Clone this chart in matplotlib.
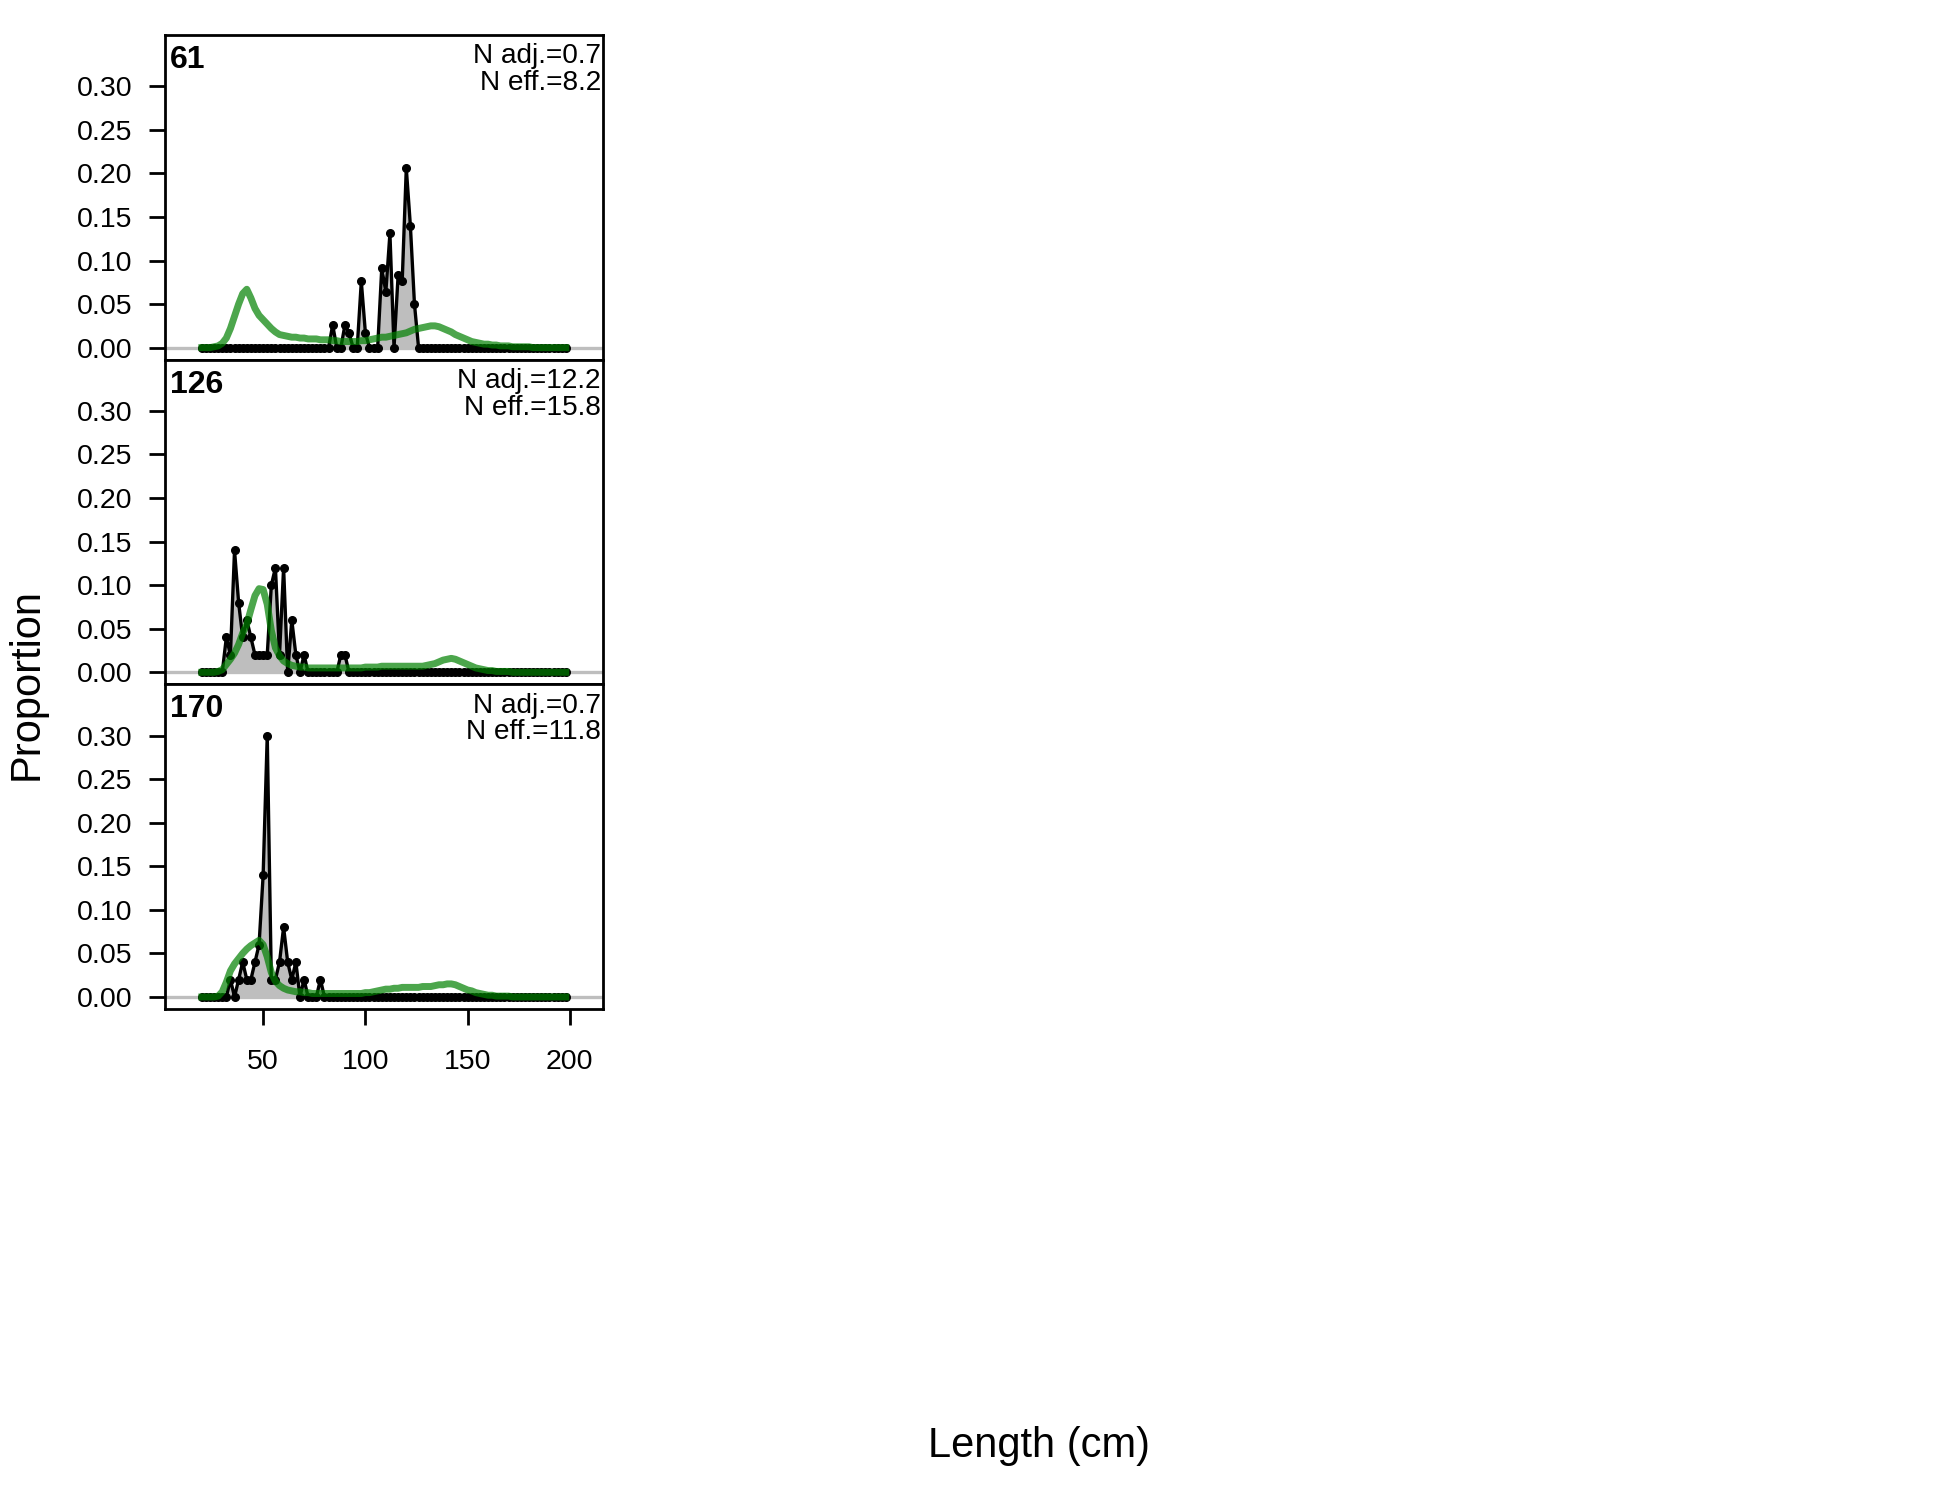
import numpy as np
import matplotlib.pyplot as plt

plt.rcParams['font.family'] = ['Liberation Sans', 'DejaVu Sans']

# length bins (cm), 2 cm wide
length_bins = np.arange(20, 200, 2)

panel_labels = ["61", "126", "170"]
n_adj = ["0.7", "12.2", "0.7"]
n_eff = ["8.2", "15.8", "11.8"]

# observed proportions (only non-zero bins)
obs_61 = {84: 0.026, 90: 0.026, 92: 0.017, 98: 0.076, 100: 0.017,
          108: 0.091, 110: 0.064, 112: 0.131, 116: 0.083, 118: 0.076,
          120: 0.206, 122: 0.140, 124: 0.050}
obs_126 = {32: 0.04, 34: 0.02, 36: 0.14, 38: 0.08, 40: 0.04, 42: 0.06,
           44: 0.04, 46: 0.02, 48: 0.02, 50: 0.02, 52: 0.02, 54: 0.10,
           56: 0.12, 58: 0.02, 60: 0.12, 64: 0.06, 66: 0.02, 70: 0.02,
           88: 0.02, 90: 0.02}
obs_170 = {34: 0.02, 38: 0.02, 40: 0.04, 42: 0.02, 44: 0.02, 46: 0.04,
           48: 0.06, 50: 0.14, 52: 0.30, 54: 0.02, 56: 0.02, 58: 0.04,
           60: 0.08, 62: 0.04, 64: 0.02, 66: 0.04, 70: 0.02, 78: 0.02}

# expected proportions, one value per bin (20..198)
exp_61 = [0, 0, 0, 0.001, 0.002, 0.005, 0.011, 0.022, 0.036, 0.050,
          0.062, 0.067, 0.057, 0.045, 0.037, 0.032, 0.027, 0.022, 0.018, 0.015,
          0.014, 0.013, 0.012, 0.012, 0.011, 0.011, 0.010, 0.010, 0.010, 0.009,
          0.009, 0.009, 0.008, 0.008, 0.007, 0.007, 0.007, 0.007, 0.007, 0.008,
          0.008, 0.009, 0.010, 0.011, 0.012, 0.012, 0.013, 0.014, 0.015, 0.016,
          0.017, 0.019, 0.021, 0.022, 0.023, 0.024, 0.025, 0.025, 0.024, 0.022,
          0.020, 0.018, 0.015, 0.013, 0.011, 0.009, 0.007, 0.006, 0.005, 0.004,
          0.004, 0.003, 0.003, 0.002, 0.002, 0.002, 0.001, 0.001, 0.001, 0.001,
          0.001, 0, 0, 0, 0, 0, 0, 0, 0, 0]
exp_126 = [0, 0, 0, 0, 0.001, 0.003, 0.009, 0.015, 0.022, 0.032,
           0.045, 0.055, 0.072, 0.088, 0.096, 0.095, 0.078, 0.048, 0.028, 0.019,
           0.013, 0.010, 0.008, 0.007, 0.006, 0.006, 0.005, 0.005, 0.005, 0.005,
           0.005, 0.005, 0.005, 0.005, 0.005, 0.005, 0.005, 0.005, 0.005, 0.005,
           0.006, 0.006, 0.006, 0.006, 0.007, 0.007, 0.007, 0.007, 0.007, 0.007,
           0.007, 0.007, 0.007, 0.007, 0.007, 0.008, 0.009, 0.010, 0.012, 0.014,
           0.015, 0.016, 0.015, 0.013, 0.011, 0.009, 0.007, 0.005, 0.004, 0.003,
           0.002, 0.002, 0.001, 0.001, 0.001, 0.001, 0, 0, 0, 0,
           0, 0, 0, 0, 0, 0, 0, 0, 0, 0]
exp_170 = [0, 0, 0, 0, 0.001, 0.006, 0.017, 0.030, 0.038, 0.044,
           0.050, 0.055, 0.059, 0.062, 0.065, 0.060, 0.046, 0.028, 0.018, 0.013,
           0.010, 0.008, 0.007, 0.006, 0.006, 0.005, 0.005, 0.004, 0.004, 0.004,
           0.004, 0.004, 0.004, 0.004, 0.004, 0.004, 0.004, 0.004, 0.004, 0.004,
           0.005, 0.005, 0.006, 0.007, 0.008, 0.009, 0.009, 0.010, 0.010, 0.011,
           0.011, 0.011, 0.011, 0.011, 0.012, 0.012, 0.012, 0.013, 0.014, 0.014,
           0.015, 0.015, 0.014, 0.012, 0.010, 0.008, 0.007, 0.005, 0.004, 0.003,
           0.002, 0.002, 0.001, 0.001, 0.001, 0.001, 0, 0, 0, 0,
           0, 0, 0, 0, 0, 0, 0, 0, 0, 0]

obs_all = [obs_61, obs_126, obs_170]
exp_all = [exp_61, exp_126, exp_170]

y_ticks = [0.00, 0.05, 0.10, 0.15, 0.20, 0.25, 0.30]
x_ticks = [50, 100, 150, 200]

W, H = 1950, 1500
fig = plt.figure(figsize=(19.5, 15), dpi=100)

left_px, right_px, top_px, bottom_px = 165, 603, 35, 1009
panel_h = (bottom_px - top_px) / 3

for i in range(3):
    y_top = top_px + i * panel_h
    ax = fig.add_axes([left_px / W, 1 - (y_top + panel_h) / H,
                       (right_px - left_px) / W, panel_h / H])
    obs = np.array([obs_all[i].get(b, 0.0) for b in length_bins])
    expected = np.array(exp_all[i])

    ax.fill_between(length_bins, 0, obs, color='#BEBEBE', lw=0, zorder=1)
    ax.axhline(0, color='#BEBEBE', lw=2.4, zorder=1.5)
    ax.plot(length_bins, obs, '-o', color='black', lw=2.4, ms=5.5, zorder=2)
    ax.plot(length_bins, expected, color=(0, 0.5, 0), alpha=0.7, lw=5, zorder=3)

    ax.set_xlim(2.0, 216.2)
    ax.set_ylim(-0.0138, 0.3588)
    ax.set_yticks(y_ticks)
    ax.set_yticklabels([f"{t:.2f}" for t in y_ticks])
    ax.tick_params(axis='y', direction='out', length=11.5, width=2,
                   pad=12, labelsize=20.5)
    if i == 2:
        ax.set_xticks(x_ticks)
        ax.set_xticklabels([str(t) for t in x_ticks])
        ax.tick_params(axis='x', direction='out', length=11.5, width=2,
                       pad=17, labelsize=20.5)
    else:
        ax.set_xticks([])
    for sp in ax.spines.values():
        sp.set_linewidth(2)

    ax.text(0.012, 1 - 33 / panel_h, panel_labels[i], transform=ax.transAxes,
            ha='left', va='baseline', fontsize=23, fontweight='bold')
    ax.text(0.995, 1 - 28.3 / panel_h, f"N adj.={n_adj[i]}", transform=ax.transAxes,
            ha='right', va='baseline', fontsize=20.2)
    ax.text(0.995, 1 - 55 / panel_h, f"N eff.={n_eff[i]}", transform=ax.transAxes,
            ha='right', va='baseline', fontsize=20.2)

fig.text(27 / W, 1 - 684 / H, "Proportion", rotation=90, ha='center',
         va='center', fontsize=30)
fig.text(1039 / W, 1 - 1457 / H, "Length (cm)", ha='center',
         va='baseline', fontsize=30)

fig.savefig('out.png', dpi=100)
